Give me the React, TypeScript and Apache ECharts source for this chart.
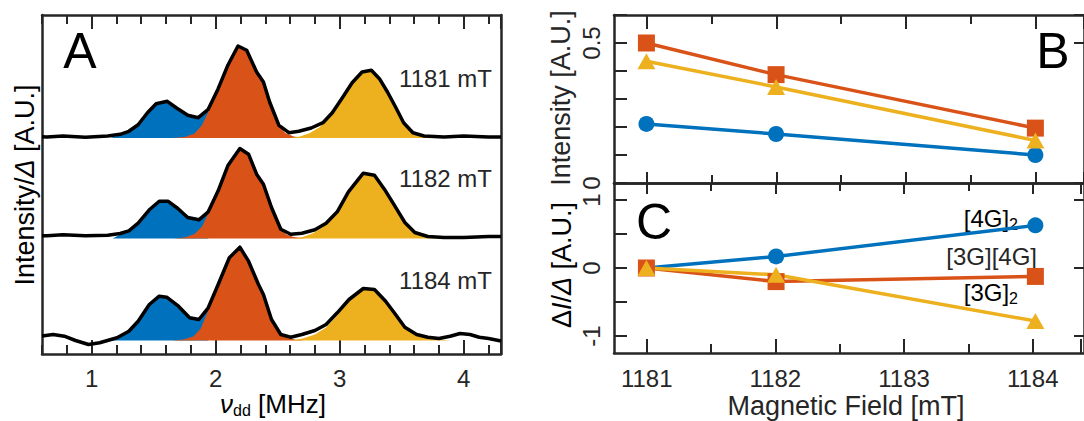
import React, { useEffect, useRef } from "react";
import * as echarts from "echarts";

const FONT = '"Liberation Sans", Arial, Helvetica, sans-serif';
const INK = "#262626";
const BLUE = "#0072BD";
const RED = "#D95319";
const YELLOW = "#EDB120";

// ---- Panel A: spectra, [frequency (MHz), intensity (A.U.)] ----
const spec1181 = [
  [0.6, 0.012], [0.64, 0.01], [0.77, 0.02], [0.95, 0.007], [1.13, 0.02], [1.23, 0.037],
  [1.3, 0.067], [1.375, 0.133], [1.45, 0.253], [1.52, 0.343], [1.61, 0.367], [1.685, 0.3],
  [1.775, 0.227], [1.86, 0.203], [1.94, 0.287], [2.02, 0.493], [2.1, 0.733], [2.18, 0.92],
  [2.25, 0.877], [2.33, 0.66], [2.385, 0.56], [2.435, 0.36], [2.51, 0.127], [2.59, 0.053],
  [2.67, 0.067], [2.77, 0.1], [2.865, 0.153], [2.94, 0.253], [3.02, 0.4], [3.1, 0.553],
  [3.18, 0.66], [3.255, 0.677], [3.32, 0.593], [3.385, 0.46], [3.45, 0.31], [3.515, 0.153],
  [3.59, 0.053], [3.68, 0.02], [3.84, 0.01], [4.0, 0.02], [4.2, 0.01], [4.3, 0.01],
];
const blue1181 = [
  [1.15, 0], [1.23, 0.03], [1.3, 0.067], [1.375, 0.133], [1.45, 0.253], [1.52, 0.343],
  [1.61, 0.367], [1.685, 0.3], [1.775, 0.227], [1.86, 0.203], [1.94, 0.287], [1.94, 0],
];
const red1181 = [
  [1.65, 0], [1.75, 0.01], [1.83, 0.045], [1.89, 0.13], [1.94, 0.26], [2.02, 0.493],
  [2.1, 0.733], [2.18, 0.92], [2.25, 0.877], [2.33, 0.66], [2.385, 0.56], [2.435, 0.36],
  [2.51, 0.127], [2.56, 0.05], [2.63, 0.015], [2.72, 0],
];
const yellow1181 = [
  [2.6, 0], [2.68, 0.015], [2.76, 0.05], [2.84, 0.11], [2.9, 0.19], [2.95, 0.265],
  [3.02, 0.4], [3.1, 0.553], [3.18, 0.66], [3.255, 0.677], [3.32, 0.593], [3.385, 0.46],
  [3.45, 0.31], [3.515, 0.153], [3.59, 0.053], [3.68, 0.02], [3.76, 0.005], [3.8, 0],
];

const spec1182 = [
  [0.6, 0.027], [0.64, 0.027], [0.77, 0.037], [0.95, 0.027], [1.13, 0.033], [1.23, 0.05],
  [1.3, 0.077], [1.375, 0.153], [1.465, 0.287], [1.545, 0.373], [1.615, 0.373], [1.695, 0.3],
  [1.775, 0.21], [1.865, 0.187], [1.94, 0.267], [2.02, 0.477], [2.1, 0.733], [2.195, 0.9],
  [2.265, 0.843], [2.33, 0.643], [2.385, 0.543], [2.45, 0.31], [2.525, 0.093], [2.605, 0.043],
  [2.695, 0.053], [2.8, 0.087], [2.89, 0.153], [2.98, 0.267], [3.07, 0.467], [3.19, 0.653],
  [3.28, 0.633], [3.36, 0.493], [3.435, 0.343], [3.525, 0.16], [3.605, 0.06], [3.71, 0.02],
  [3.84, 0.01], [4.0, 0.01], [4.2, 0.02], [4.3, 0.02],
];
const blue1182 = [
  [1.17, 0], [1.23, 0.04], [1.3, 0.077], [1.375, 0.153], [1.465, 0.287], [1.545, 0.373],
  [1.615, 0.373], [1.695, 0.3], [1.775, 0.21], [1.865, 0.187], [1.94, 0.267], [1.94, 0],
];
const red1182 = [
  [1.66, 0], [1.75, 0.01], [1.83, 0.045], [1.89, 0.12], [1.94, 0.25], [2.02, 0.477],
  [2.1, 0.733], [2.195, 0.9], [2.265, 0.843], [2.33, 0.643], [2.385, 0.543], [2.45, 0.31],
  [2.525, 0.093], [2.57, 0.04], [2.63, 0.015], [2.72, 0],
];
const yellow1182 = [
  [2.62, 0], [2.7, 0.015], [2.78, 0.05], [2.86, 0.11], [2.93, 0.2], [2.98, 0.267],
  [3.07, 0.467], [3.19, 0.653], [3.28, 0.633], [3.36, 0.493], [3.435, 0.343], [3.525, 0.16],
  [3.605, 0.06], [3.71, 0.02], [3.78, 0],
];

const spec1184 = [
  [0.6, 0.045], [0.69, 0.06], [0.78, 0.043], [0.87, 0.0], [0.975, -0.04], [1.065, -0.023],
  [1.205, 0.027], [1.3, 0.093], [1.375, 0.193], [1.465, 0.36], [1.545, 0.443], [1.605, 0.433],
  [1.7, 0.343], [1.79, 0.227], [1.865, 0.21], [1.94, 0.327], [2.02, 0.56], [2.11, 0.827],
  [2.195, 0.933], [2.265, 0.793], [2.345, 0.56], [2.385, 0.46], [2.45, 0.21], [2.525, 0.06],
  [2.605, 0.033], [2.695, 0.06], [2.8, 0.1], [2.89, 0.16], [2.98, 0.277], [3.075, 0.41],
  [3.19, 0.52], [3.28, 0.51], [3.37, 0.393], [3.45, 0.26], [3.525, 0.133], [3.62, 0.06],
  [3.71, 0.033], [3.8, 0.02], [3.89, 0.043], [3.97, 0.07], [4.05, 0.06], [4.125, 0.033],
  [4.2, 0.02], [4.3, -0.005],
];
const blue1184 = [
  [1.12, 0], [1.205, 0.027], [1.3, 0.093], [1.375, 0.193], [1.465, 0.36], [1.545, 0.443],
  [1.605, 0.433], [1.7, 0.343], [1.79, 0.227], [1.865, 0.21], [1.94, 0.327], [1.94, 0],
];
const red1184 = [
  [1.64, 0], [1.74, 0.01], [1.82, 0.04], [1.88, 0.12], [1.93, 0.27], [2.02, 0.56],
  [2.11, 0.827], [2.195, 0.933], [2.265, 0.793], [2.345, 0.56], [2.385, 0.46], [2.45, 0.21],
  [2.525, 0.06], [2.58, 0.025], [2.65, 0.008], [2.72, 0],
];
const yellow1184 = [
  [2.6, 0], [2.7, 0.02], [2.8, 0.06], [2.89, 0.13], [2.98, 0.25], [3.075, 0.41],
  [3.19, 0.52], [3.28, 0.51], [3.37, 0.393], [3.45, 0.26], [3.525, 0.133], [3.62, 0.06],
  [3.71, 0.03], [3.8, 0.01], [3.9, 0],
];

const spectrumLabels = ["1181 mT", "1182 mT", "1184 mT"];
// vertical offset of each trace above the lowest one
const spectrumOffsets = [2.025, 1.02, 0];

// ---- Panels B and C: component intensities vs magnetic field ----
const fields = [1181, 1182, 1184];
const intensity4G2 = [0.211, 0.175, 0.1];
const intensity3G4G = [0.5, 0.387, 0.196];
const intensity3G2 = [0.435, 0.343, 0.152];
const delta4G2 = [0, 0.17, 0.627];
const delta3G4G = [0, -0.2, -0.124];
const delta3G2 = [0, -0.1, -0.78];

// axis ranges
const NU_MIN = 0.6;
const NU_MAX = 4.3;
const NU_FIRST_MAJOR = 1;
const A_Y_MIN = -0.135;
const A_Y_MAX = 3.255;
const FIELD_MIN = 1180.75;
const FIELD_MAX = 1184.375;
const FIELD_FIRST = 1181;
const B_MIN = 0;
const B_MAX = 0.6;
const C_MIN = -1.25;
const C_MAX = 1.25;
const C_FIRST = -1;

const GRID_A = { left: 42, top: 15, width: 459, height: 339 };
const GRID_B = { left: 614, top: 15, width: 474, height: 168 };
const GRID_C = { left: 614, top: 183, width: 474, height: 170 };

const TICK_FONT = 24;
const frameLine = { show: true, onZero: false, lineStyle: { color: INK, width: 2.5 } };
const noLine = { show: false, onZero: false };

const near = (a: number, b: number) => Math.abs(a - b) < 1e-6;
const intOnly = (v: number) => (near(v, Math.round(v)) ? String(Math.round(v)) : "");

// value axis carrying a frame line and/or evenly spaced inward ticks
function axis(
  gridIndex: number,
  position: string,
  min: number,
  max: number,
  opts: { line?: boolean; interval?: number; len?: number; label?: any } = {}
) {
  const { line = false, interval, len = 0, label } = opts;
  const a: any = {
    type: "value",
    gridIndex,
    position,
    min,
    max,
    axisLine: line ? frameLine : noLine,
    axisTick: len > 0
      ? { show: true, inside: true, length: len, lineStyle: { color: INK, width: 2 } }
      : { show: false },
    axisLabel: label ? label : { show: false },
    splitLine: { show: false },
  };
  if (interval) a.interval = interval;
  return a;
}

function hiddenAxis(gridIndex: number, min: number, max: number) {
  return { type: "value", gridIndex, min, max, show: false };
}

function toPairs(xs: number[], ys: number[]) {
  return xs.map((x, i) => [x, ys[i]]);
}

function rich(size: number) {
  return {
    n: { fontSize: size, fontFamily: FONT, color: INK },
    i: { fontSize: size, fontFamily: FONT, color: INK, fontStyle: "italic" },
    s: { fontSize: 16, fontFamily: FONT, color: INK, padding: [12, 0, 0, 0] },
  };
}

export default function App() {
  const ref = useRef<HTMLDivElement>(null);

  useEffect(() => {
    if (!ref.current) return;
    const chart = echarts.init(ref.current, null, { renderer: "svg" });

    // pixel scales of the panels, used to place the tick-carrying sub-grids
    const nuPx = GRID_A.width / (NU_MAX - NU_MIN);
    const fPx = GRID_B.width / (FIELD_MAX - FIELD_MIN);
    const cPx = GRID_C.height / (C_MAX - C_MIN);

    const gridANuTicks = {
      left: GRID_A.left + (NU_FIRST_MAJOR - NU_MIN) * nuPx,
      top: GRID_A.top,
      width: (NU_MAX - NU_FIRST_MAJOR) * nuPx,
      height: GRID_A.height,
    };
    const fieldTickGrid = (g: any) => ({
      left: g.left + (FIELD_FIRST - FIELD_MIN) * fPx,
      top: g.top,
      width: (FIELD_MAX - FIELD_FIRST) * fPx,
      height: g.height,
    });
    const gridCYTicks = {
      left: GRID_C.left,
      top: GRID_C.top,
      width: GRID_C.width,
      height: (C_MAX - C_FIRST) * cPx,
    };

    const grid = [
      GRID_A, // 0 top spectrum + frame + 0.2 MHz ticks
      GRID_A, // 1 middle spectrum
      GRID_A, // 2 bottom spectrum
      gridANuTicks, // 3 integer MHz ticks + labels
      GRID_B, // 4 panel B
      fieldTickGrid(GRID_B), // 5 panel B field ticks
      GRID_C, // 6 panel C
      fieldTickGrid(GRID_C), // 7 panel C field ticks + labels
      gridCYTicks, // 8 panel C vertical ticks + labels
    ];

    const aBottom = A_Y_MIN - spectrumOffsets[0];
    const aTop = A_Y_MAX - spectrumOffsets[0];

    const tickLabel = {
      show: true,
      fontSize: TICK_FONT,
      fontFamily: FONT,
      color: INK,
      margin: 12,
      formatter: intOnly,
    };

    const xAxis = [
      axis(0, "bottom", NU_MIN, NU_MAX, { line: true, interval: 0.2, len: 9 }), // 0
      axis(0, "top", NU_MIN, NU_MAX, { line: true, interval: 0.2, len: 9 }), // 1
      hiddenAxis(1, NU_MIN, NU_MAX), // 2
      hiddenAxis(2, NU_MIN, NU_MAX), // 3
      axis(3, "bottom", NU_FIRST_MAJOR, NU_MAX, { interval: 1, len: 14, label: tickLabel }), // 4
      axis(3, "top", NU_FIRST_MAJOR, NU_MAX, { interval: 1, len: 14 }), // 5
      axis(4, "bottom", FIELD_MIN, FIELD_MAX, { line: true }), // 6
      axis(4, "top", FIELD_MIN, FIELD_MAX, { line: true }), // 7
      axis(5, "bottom", FIELD_FIRST, FIELD_MAX, { interval: 1, len: 11 }), // 8
      axis(5, "bottom", FIELD_FIRST, FIELD_MAX, { interval: 0.5, len: 8 }), // 9
      axis(5, "top", FIELD_FIRST, FIELD_MAX, { interval: 1, len: 14 }), // 10
      axis(5, "top", FIELD_FIRST, FIELD_MAX, { interval: 0.5, len: 9 }), // 11
      axis(6, "bottom", FIELD_MIN, FIELD_MAX, { line: true }), // 12
      axis(6, "top", FIELD_MIN, FIELD_MAX, { line: true }), // 13
      axis(7, "bottom", FIELD_FIRST, FIELD_MAX, { interval: 1, len: 14, label: { ...tickLabel, margin: 13 } }), // 14
      axis(7, "bottom", FIELD_FIRST, FIELD_MAX, { interval: 0.5, len: 9 }), // 15
      axis(7, "top", FIELD_FIRST, FIELD_MAX, { interval: 1, len: 11 }), // 16
      axis(7, "top", FIELD_FIRST, FIELD_MAX, { interval: 0.5, len: 8 }), // 17
      hiddenAxis(8, FIELD_MIN, FIELD_MAX), // 18
    ];

    const rotLabel = { ...tickLabel, rotate: 90, margin: 11 };
    const yAxis = [
      axis(0, "left", aBottom, aTop, { line: true }), // 0
      axis(0, "right", aBottom, aTop, { line: true }), // 1
      hiddenAxis(1, A_Y_MIN - spectrumOffsets[1], A_Y_MAX - spectrumOffsets[1]), // 2
      hiddenAxis(2, A_Y_MIN - spectrumOffsets[2], A_Y_MAX - spectrumOffsets[2]), // 3
      hiddenAxis(3, 0, 1), // 4
      axis(4, "left", B_MIN, B_MAX, {
        line: true,
        interval: 0.1,
        len: 13,
        label: {
          ...rotLabel,
          formatter: (v: number) => (near(v, 0) ? "0" : near(v, 0.5) ? "0.5" : ""),
        },
      }), // 5
      axis(4, "right", B_MIN, B_MAX, { line: true, interval: 0.5, len: 10 }), // 6
      hiddenAxis(5, 0, 1), // 7
      axis(6, "left", C_MIN, C_MAX, { line: true }), // 8
      axis(6, "right", C_MIN, C_MAX, { line: true }), // 9
      hiddenAxis(7, 0, 1), // 10
      axis(8, "left", C_FIRST, C_MAX, { interval: 0.5, len: 13, label: rotLabel }), // 11
      axis(8, "right", C_FIRST, C_MAX, { interval: 1, len: 10 }), // 12
    ];

    const spectra = [
      { curve: spec1181, fills: [blue1181, red1181, yellow1181] },
      { curve: spec1182, fills: [blue1182, red1182, yellow1182] },
      { curve: spec1184, fills: [blue1184, red1184, yellow1184] },
    ];
    const specX = [0, 2, 3];
    const specY = [0, 2, 3];
    const fillColors = [BLUE, RED, YELLOW];

    const series: any[] = [];
    spectra.forEach((sp, k) => {
      sp.fills.forEach((f, j) => {
        series.push({
          type: "line",
          xAxisIndex: specX[k],
          yAxisIndex: specY[k],
          data: f,
          symbol: "none",
          lineStyle: { opacity: 0, width: 0 },
          areaStyle: { color: fillColors[j], opacity: 1 },
          silent: true,
        });
      });
      series.push({
        type: "line",
        xAxisIndex: specX[k],
        yAxisIndex: specY[k],
        data: sp.curve,
        symbol: "none",
        lineStyle: { color: "#000", width: 3.5, join: "round" },
        silent: true,
      });
    });

    const markerSeries = (x: number, y: number, vals: number[], color: string, symbol: string, size: any) => ({
      type: "line",
      xAxisIndex: x,
      yAxisIndex: y,
      data: toPairs(fields, vals),
      symbol,
      symbolSize: size,
      showAllSymbol: true,
      lineStyle: { color, width: 3.5 },
      itemStyle: { color, opacity: 1 },
      silent: true,
    });

    series.push(markerSeries(6, 5, intensity4G2, BLUE, "circle", 16));
    series.push(markerSeries(6, 5, intensity3G4G, RED, "rect", 17));
    series.push(markerSeries(6, 5, intensity3G2, YELLOW, "triangle", [18, 16]));
    series.push(markerSeries(12, 8, delta4G2, BLUE, "circle", 16));
    series.push(markerSeries(12, 8, delta3G4G, RED, "rect", 17));
    series.push(markerSeries(12, 8, delta3G2, YELLOW, "triangle", [18, 16]));

    const labelY = [78, 178, 280];
    const letter = (t: string, x: number, y: number) => ({
      type: "text", x, y,
      style: { text: t, fontSize: 50, fontFamily: FONT, fill: "#000", align: "center", verticalAlign: "middle" },
    });
    const graphic: any[] = [
      letter("A", 80, 51),
      letter("B", 1053, 51),
      letter("C", 654, 222),
      ...spectrumLabels.map((t, k) => ({
        type: "text", x: 492, y: labelY[k],
        style: { text: t, fontSize: TICK_FONT, fontFamily: FONT, fill: INK, align: "right", verticalAlign: "middle" },
      })),
      {
        type: "text", x: 25, y: 185, rotation: Math.PI / 2,
        style: { text: "{n|Intensity/}{i|Δ}{n| [A.U.]}", rich: rich(27), align: "center", verticalAlign: "middle" },
      },
      {
        type: "text", x: 273, y: 404,
        style: { text: "{i|ν}{s|dd}{n| [MHz]}", rich: rich(26), align: "center", verticalAlign: "middle" },
      },
      {
        type: "text", x: 561, y: 98, rotation: Math.PI / 2,
        style: { text: "Intensity [A.U.]", fontSize: 27, fontFamily: FONT, fill: INK, align: "center", verticalAlign: "middle" },
      },
      {
        type: "text", x: 562, y: 265, rotation: Math.PI / 2,
        style: { text: "{n|Δ}{i|I}{n|/}{i|Δ}{n| [A.U.]}", rich: rich(27), align: "center", verticalAlign: "middle" },
      },
      {
        type: "text", x: 846, y: 406,
        style: { text: "Magnetic Field [mT]", fontSize: 27, fontFamily: FONT, fill: INK, align: "center", verticalAlign: "middle" },
      },
      {
        type: "text", x: 1018, y: 218,
        style: { text: "{n|[4G]}{s|2}", rich: rich(TICK_FONT), align: "right", verticalAlign: "middle" },
      },
      {
        type: "text", x: 1037, y: 256,
        style: { text: "[3G][4G]", fontSize: TICK_FONT, fontFamily: FONT, fill: INK, align: "right", verticalAlign: "middle" },
      },
      {
        type: "text", x: 1018, y: 292,
        style: { text: "{n|[3G]}{s|2}", rich: rich(TICK_FONT), align: "right", verticalAlign: "middle" },
      },
    ];

    chart.setOption({
      animation: false,
      backgroundColor: "#fff",
      grid,
      xAxis,
      yAxis,
      series,
      graphic,
    });

    return () => chart.dispose();
  }, []);

  return (
    <div
      ref={ref}
      style={{ position: "fixed", left: 0, top: 0, width: 1084, height: 421, background: "#fff" }}
    />
  );
}
